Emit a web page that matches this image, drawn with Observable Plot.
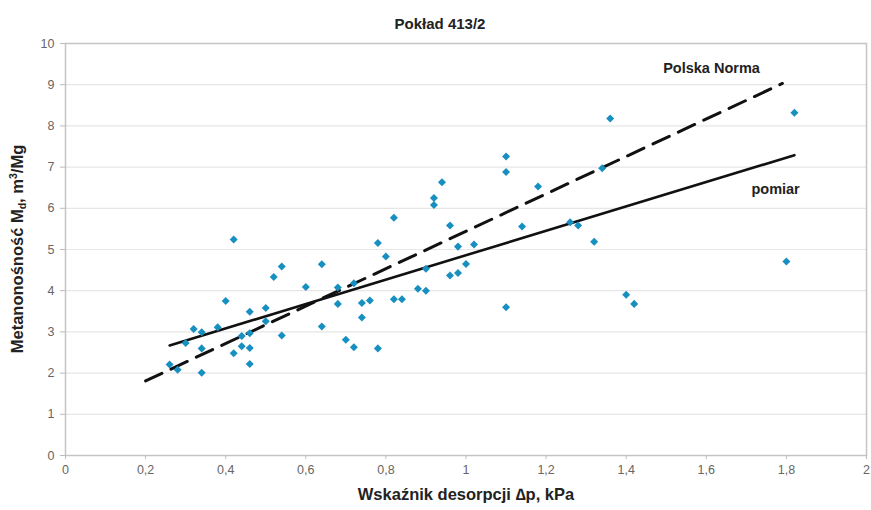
<!DOCTYPE html>
<html>
<head>
<meta charset="utf-8">
<script src="https://cdn.jsdelivr.net/npm/d3@7"></script>
<script src="https://cdn.jsdelivr.net/npm/@observablehq/plot@0.6"></script>
<style>
  html, body { margin: 0; padding: 0; background: #fff; }
  svg { font-family: "Liberation Sans", Arial, sans-serif; }
</style>
</head>
<body>
<div id="chart"></div>
<script>
const pointsX = [0.26, 0.28, 0.30, 0.32, 0.34, 0.34, 0.34, 0.38, 0.40, 0.42, 0.42, 0.44, 0.44, 0.46, 0.46, 0.46, 0.46, 0.50, 0.50, 0.52, 0.54, 0.54,
  0.60, 0.64, 0.64, 0.68, 0.68, 0.70, 0.72, 0.72, 0.74, 0.74, 0.76, 0.78, 0.78, 0.80, 0.82, 0.82, 0.84, 0.88, 0.90, 0.90,
  0.92, 0.92, 0.94, 0.96, 0.96, 0.98, 0.98, 1.00, 1.02, 1.10, 1.10, 1.10, 1.14, 1.18, 1.26, 1.28, 1.32, 1.34, 1.36, 1.40, 1.42, 1.80, 1.82];
const pointsY = [2.21, 2.08, 2.73, 3.07, 2.99, 2.60, 2.01, 3.11, 3.75, 5.24, 2.48, 2.90, 2.65, 3.49, 2.97, 2.61, 2.22, 3.58, 3.26, 4.33, 4.59, 2.91,
  4.09, 4.64, 3.13, 4.08, 3.68, 2.81, 4.18, 2.63, 3.70, 3.35, 3.76, 5.16, 2.60, 4.83, 5.77, 3.79, 3.79, 4.05, 4.00, 4.53,
  6.25, 6.08, 6.63, 5.58, 4.37, 5.07, 4.43, 4.65, 5.12, 7.26, 6.88, 3.60, 5.56, 6.53, 5.66, 5.58, 5.19, 6.97, 8.18, 3.90, 3.68, 4.71, 8.32];

const pomiarX = [0.26, 1.82];
const pomiarY = [2.67, 7.29];
const normaX = [0.20, 1.79];
const normaY = [1.81, 9.03];

const xTicks = [0, 0.2, 0.4, 0.6, 0.8, 1, 1.2, 1.4, 1.6, 1.8, 2];
const yTicks = [0, 1, 2, 3, 4, 5, 6, 7, 8, 9, 10];

const title = "Pokład 413/2";
const xLabel = "Wskaźnik desorpcji \u2206p, kPa";
const seriesLabels = ["Polska Norma", "pomiar"];
const labelX = [1.613, 1.773];
const labelY = [9.39, 6.47];

const points = pointsX.map((x, i) => ({x, y: pointsY[i]}));
const pomiar = pomiarX.map((x, i) => ({x, y: pomiarY[i]}));
const norma = normaX.map((x, i) => ({x, y: normaY[i]}));
const labels = seriesLabels.map((t, i) => ({t, x: labelX[i], y: labelY[i]}));

const fmt = d => String(d).replace(".", ",");

const chart = Plot.plot({
  width: 871,
  height: 510,
  marginLeft: 65,
  marginRight: 5,
  marginTop: 43,
  marginBottom: 55,
  style: {fontFamily: "Liberation Sans, Arial, sans-serif", fontSize: "12.5px", color: "#666", background: "#fff"},
  x: {domain: [0, 2]},
  y: {domain: [0, 10]},
  marks: [
    Plot.gridY(yTicks, {stroke: "#e6e6e6", strokeOpacity: 1, strokeWidth: 1.2}),
    Plot.frame({stroke: "#c4c4c4", strokeWidth: 1.5}),
    Plot.axisX(xTicks, {tickFormat: fmt, tickSize: 4, tickPadding: 6, stroke: "#bbb", fill: "#666", label: null, fontSize: 12.5}),
    Plot.axisY(yTicks, {tickFormat: fmt, tickSize: 5, tickPadding: 6, stroke: "#bbb", fill: "#666", label: null, fontSize: 12.5}),
    Plot.line(norma, {x: "x", y: "y", stroke: "#111", strokeWidth: 3, strokeDasharray: "18,10"}),
    Plot.line(pomiar, {x: "x", y: "y", stroke: "#111", strokeWidth: 2.6}),
    Plot.dot(points, {x: "x", y: "y", symbol: "square", rotate: 45, r: 3.2, fill: "#178fc0", stroke: "none"}),
    Plot.text(labels, {x: "x", y: "y", text: "t", fill: "#222", fontWeight: "bold", fontSize: 14.5}),
    Plot.text([title], {frameAnchor: "top", dx: -26, dy: -25, fill: "#222", fontWeight: "bold", fontSize: 15}),
    Plot.text([xLabel], {frameAnchor: "bottom", dy: 44, fill: "#222", fontWeight: "bold", fontSize: 16.5})
  ]
});

// Y-axis label with subscript and superscript
const svg = d3.select(chart);
const yl = svg.append("text")
  .attr("transform", "translate(23,249) rotate(-90)")
  .attr("text-anchor", "middle")
  .attr("fill", "#222")
  .attr("font-weight", "bold")
  .attr("font-size", 16.5)
  .attr("font-family", "Liberation Sans, Arial, sans-serif");
yl.append("tspan").text("Metanonośność M");
yl.append("tspan").attr("font-size", 10.5).attr("dy", 3).text("d");
yl.append("tspan").attr("dy", -3).text(", m");
yl.append("tspan").attr("font-size", 10.5).attr("dy", -6).text("3");
yl.append("tspan").attr("dy", 6).text("/Mg");

document.getElementById("chart").appendChild(chart);
</script>
</body>
</html>
